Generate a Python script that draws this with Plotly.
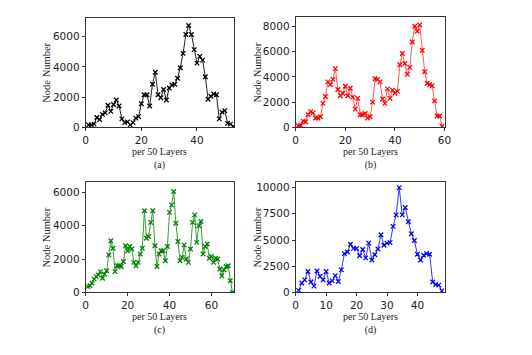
import plotly.graph_objects as go

# Node counts per 50-layer bin
nodes_a = [150, 150, 200, 640, 500, 850, 950, 1450, 1050, 1500,
           1800, 1400, 550, 300, 350, 150, 300, 600, 700, 1550,
           2150, 2150, 1400, 2850, 3650, 2150, 1950, 2500, 1800, 2600,
           2800, 2850, 3250, 3950, 4900, 6150, 6750, 6150, 5150, 4250,
           4700, 4450, 3350, 1850, 2050, 2200, 2150, 550, 1000, 1100,
           250, 200, 50]
nodes_b = [130, 150, 500, 450, 1000, 1250, 1150, 750, 750, 850,
           1900, 2450, 3600, 3400, 3800, 4650, 3000, 2500, 2700, 3250,
           2500, 3100, 2400, 1450, 2300, 1000, 1000, 1100, 750, 850,
           2000, 3850, 3800, 3600, 2250, 1900, 3050, 2300, 2950, 2700,
           2850, 4950, 5850, 5050, 4200, 4750, 6750, 8000, 7600, 8100,
           6100, 4400, 3500, 3400, 3300, 2100, 900, 900, 100]
nodes_c = [350, 400, 550, 800, 950, 1050, 1250, 850, 1100, 1300,
           2250, 3100, 2650, 1250, 1600, 1600, 1550, 1850, 2800, 2500,
           2750, 2600, 1800, 1600, 1800, 2300, 2650, 4900, 3250, 3350,
           4200, 4900, 2800, 1550, 2300, 2500, 2500, 1900, 2750, 4800,
           5250, 6050, 4150, 3050, 1900, 2100, 2850, 2000, 1800, 2600,
           4200, 4650, 3000, 4000, 4250, 2300, 2750, 2900, 2050, 2150,
           1800, 2050, 2000, 1400, 1000, 1350, 1550, 1600, 700, 0]
nodes_d = [200, 900, 1200, 2000, 1000, 600, 2050, 1550, 1200, 2000,
           900, 1100, 1600, 1050, 2150, 3700, 3850, 4600, 4200, 4200,
           3500, 4100, 3300, 4700, 3100, 3600, 4150, 5500, 4500, 4700,
           4750, 6300, 7400, 10000, 7400, 8100, 6750, 5600, 4950, 3650,
           3100, 3550, 3700, 3650, 1000, 750, 700, 150]

panels = [
    # data, line colour, marker colour, x range, y range, x ticks, y ticks, label
    (nodes_a, "#222222", "#000000", [0, 53.4], [0, 7250], [0, 20, 40], [0, 2000, 4000, 6000], "(a)"),
    (nodes_b, "#ff5555", "#ff0000", [0, 60], [0, 8700], [0, 20, 40, 60], [0, 2000, 4000, 6000, 8000], "(b)"),
    (nodes_c, "#3a9a3a", "#008000", [0, 70.9], [0, 6600], [0, 20, 40, 60], [0, 2000, 4000, 6000], "(c)"),
    (nodes_d, "#3333ff", "#0000ff", [0, 48.9], [0, 10500], [0, 10, 20, 30, 40], [0, 2500, 5000, 7500, 10000], "(d)"),
]

W, H = 532, 355
# axes boxes in pixels: left, right, top, bottom
boxes = [(84.3, 235.7, 17.3, 128.7), (298.3, 450, 16.7, 129),
         (84.3, 235.7, 185, 297.3), (298.3, 450, 185, 297.3)]

fig = go.Figure()
serif = dict(family="Liberation Serif, Times New Roman, serif", size=10.5, color="#222")
tickfont = dict(family="DejaVu Sans, sans-serif", size=10.5, color="#222")
annotations = []


def _note(x, y, text, **kw):
    annotations.append(dict(x=x / W, y=1 - y / H, text=text, showarrow=False,
                            xref="paper", yref="paper", xanchor="center",
                            yanchor="middle", **kw))


for i, (ys, lc, mc, xr, yr, xt, yt, lab) in enumerate(panels):
    n = i + 1
    sfx = "" if n == 1 else str(n)
    l, r, t, b = boxes[i]
    fig.add_trace(go.Scatter(
        x=list(range(1, len(ys) + 1)), y=ys, mode="lines+markers",
        xaxis="x" + sfx, yaxis="y" + sfx, showlegend=False,
        line=dict(color=lc, width=1),
        marker=dict(symbol="x-thin", size=4.5, line=dict(color=mc, width=1.3)),
    ))
    common = dict(showgrid=False, zeroline=False, showline=True, linecolor="#333",
                  linewidth=1, mirror=True, ticks="outside", ticklen=3,
                  tickcolor="#333", tickfont=tickfont)
    fig.layout["xaxis" + sfx] = dict(domain=[l / W, r / W], range=xr, tickvals=xt,
                                     anchor="y" + sfx, **common)
    fig.layout["yaxis" + sfx] = dict(domain=[1 - b / H, 1 - t / H], range=yr, tickvals=yt,
                                     ticktext=[str(v) for v in yt],
                                     anchor="x" + sfx, **common)
    cx = (l + r) / 2
    # axis title and panel label stacked as one two-line caption
    _note(cx, 161 if i < 2 else 329, "per 50 Layers<br>" + lab, font=dict(serif, size=10))
    _note(44 if i % 2 == 0 else 259, (t + b) / 2, "Node Number", textangle=-90, font=serif)

fig.update_layout(width=W, height=H, margin=dict(l=0, r=0, t=0, b=0),
                  paper_bgcolor="white", plot_bgcolor="white",
                  annotations=annotations)
# drop the browser's default body margin so the figure sits at the page origin
fig.write_html("out.html", config={"displayModeBar": False},
               post_script="document.body.style.margin='0';")
